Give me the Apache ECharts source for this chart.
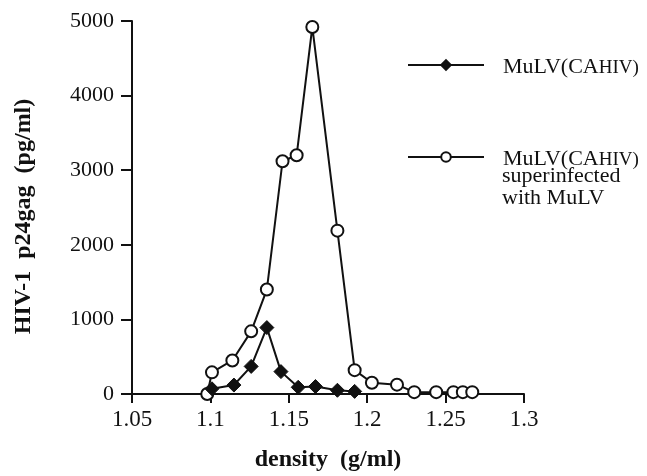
<!DOCTYPE html>
<html>
<head>
<meta charset="utf-8">
<script src="https://cdn.jsdelivr.net/npm/echarts@6/dist/echarts.min.js"></script>
<style>html,body{margin:0;padding:0;background:#fff}#c{width:647px;height:476px}</style>
</head>
<body>
<div id="c"></div>
<script>
// Data
var densityA = [1.101, 1.115, 1.126, 1.136, 1.145, 1.156, 1.167, 1.181, 1.192];
var p24A = [70, 120, 370, 890, 300, 90, 100, 50, 35];
var densityB = [1.098, 1.101, 1.114, 1.126, 1.136, 1.146, 1.155, 1.165, 1.181, 1.192, 1.203, 1.219, 1.230, 1.244, 1.255, 1.261, 1.267];
var p24B = [0, 290, 450, 840, 1400, 3120, 3200, 4920, 2190, 320, 150, 125, 25, 25, 25, 25, 25];
var xTicks = [1.05, 1.1, 1.15, 1.2, 1.25, 1.3];
var yTicks = [0, 1000, 2000, 3000, 4000, 5000];
var nameA = 'MuLV(CAHIV)';
var nameB = 'MuLV(CAHIV) superinfected with MuLV';

function pairs(xs, ys) { return xs.map(function (x, i) { return [x, ys[i]]; }); }

var serif = '"Liberation Serif", "Times New Roman", serif';
var ink = '#111';
var chart = echarts.init(document.getElementById('c'), null, { renderer: 'canvas' });
var legendRich = {
  a: { fontFamily: serif, fontSize: 22, color: ink, verticalAlign: 'bottom', lineHeight: 26 },
  b: { fontFamily: serif, fontSize: 19, color: ink, verticalAlign: 'bottom', lineHeight: 26 }
};
chart.setOption({
  animation: false,
  backgroundColor: '#fff',
  grid: { left: 132, right: 123, top: 21, bottom: 82, outerBoundsMode: 'none', containLabel: false },
  xAxis: {
    type: 'value',
    min: xTicks[0], max: xTicks[xTicks.length - 1], interval: 0.05,
    name: 'density  (g/ml)', nameLocation: 'middle', nameGap: 54,
    nameTextStyle: { fontFamily: serif, fontSize: 24, fontWeight: 'bold', color: ink },
    axisLine: { lineStyle: { color: ink, width: 2 } },
    axisTick: { length: 9, lineStyle: { color: ink, width: 2 } },
    axisLabel: { fontFamily: serif, fontSize: 23, color: ink, margin: 14 },
    splitLine: { show: false }
  },
  yAxis: {
    type: 'value',
    min: yTicks[0], max: yTicks[yTicks.length - 1], interval: 1000,
    name: 'HIV-1  p24gag  (pg/ml)', nameLocation: 'middle', nameGap: 96,
    nameTextStyle: { fontFamily: serif, fontSize: 24, fontWeight: 'bold', color: ink, padding: [0, 18, 0, 0] },
    axisLine: { show: true, lineStyle: { color: ink, width: 2 } },
    axisTick: { show: true, length: 11, lineStyle: { color: ink, width: 2 } },
    axisLabel: { fontFamily: serif, fontSize: 22, color: ink, margin: 18, formatter: function (v) { return String(v); } },
    splitLine: { show: false }
  },
  legend: [
    {
      data: [nameA], orient: 'vertical', left: 402, top: 51,
      itemWidth: 76, itemHeight: 12,
      formatter: function () { return '{a|MuLV(CA}{b|HIV)}'; },
      textStyle: { padding: [0, 0, 0, 14], rich: legendRich }
    },
    {
      data: [nameB], orient: 'vertical', left: 402, top: 143,
      itemWidth: 76, itemHeight: 12,
      formatter: function () { return '{a|MuLV(CA}{b|HIV)}'; },
      textStyle: { padding: [0, 0, 0, 14], rich: legendRich }
    }
  ],
  graphic: [
    { type: 'text', left: 502, top: 165, style: { text: 'superinfected', font: '22px ' + serif, fill: ink } },
    { type: 'text', left: 502, top: 187, style: { text: 'with MuLV', font: '22px ' + serif, fill: ink } }
  ],
  series: [
    {
      name: nameB, type: 'line', data: pairs(densityB, p24B),
      symbol: 'circle', symbolSize: 12,
      lineStyle: { color: ink, width: 2 },
      itemStyle: { color: '#fff', borderColor: ink, borderWidth: 2 },
      z: 2
    },
    {
      name: nameA, type: 'line', data: pairs(densityA, p24A),
      symbol: 'diamond', symbolSize: [14, 14],
      lineStyle: { color: ink, width: 2 },
      itemStyle: { color: ink, borderColor: ink, borderWidth: 1 },
      z: 3
    }
  ]
});
</script>
</body>
</html>
